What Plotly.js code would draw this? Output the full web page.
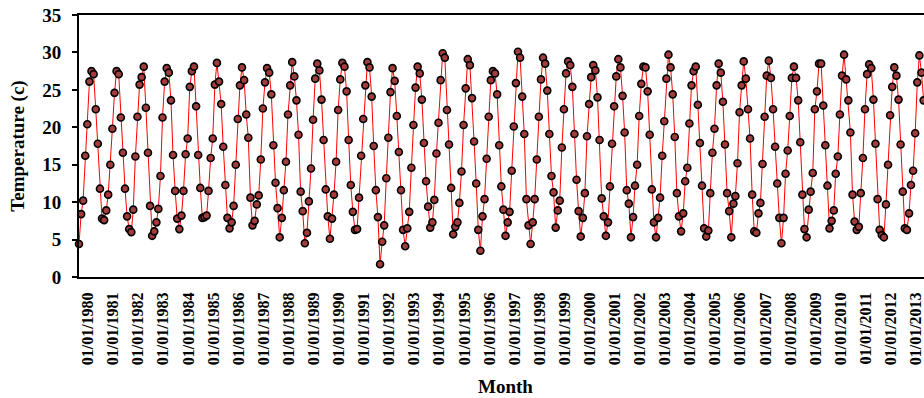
<!DOCTYPE html>
<html>
<head>
<meta charset="utf-8">
<script src="https://cdn.plot.ly/plotly-3.0.1.min.js"></script>
<style>
  html, body { margin: 0; padding: 0; overflow: hidden; background: #ffffff; }
  #chart { width: 937px; height: 398px; }
</style>
</head>
<body>
<div id="chart"></div>
<script>
// Monthly mean temperature (°C), January 1980 onwards, one row per year
const startYear = 1980;
const temperature = [
  4.4, 8.4, 10.2, 16.2, 20.4, 26.1, 27.5, 27.1, 22.4, 17.8, 11.8, 7.8,   // 1980
  7.6, 8.9, 11.0, 15.0, 19.8, 24.6, 27.5, 27.1, 21.3, 16.6, 11.8, 8.1,   // 1981
  6.4, 6.0, 9.0, 16.1, 21.4, 25.7, 26.7, 28.1, 22.6, 16.6, 9.5, 5.5,     // 1982
  6.1, 7.3, 9.1, 13.5, 21.3, 26.1, 27.9, 27.3, 23.6, 16.3, 11.5, 7.8,    // 1983
  6.4, 8.2, 11.5, 16.4, 18.5, 25.4, 27.5, 28.1, 22.8, 16.3, 11.9, 7.9,   // 1984
  8.0, 8.2, 11.5, 15.9, 18.5, 25.7, 28.6, 26.1, 23.1, 17.4, 12.3, 7.9,   // 1985
  6.5, 7.3, 9.5, 15.0, 21.1, 25.6, 28.0, 26.3, 21.7, 18.6, 10.6, 6.9,    // 1986
  7.5, 9.7, 10.9, 15.7, 22.5, 26.0, 27.9, 27.3, 24.4, 17.6, 12.6, 9.2,   // 1987
  5.3, 7.9, 11.6, 15.4, 21.7, 25.6, 28.7, 26.8, 23.6, 19.0, 11.4, 8.8,   // 1988
  4.5, 5.9, 10.1, 14.5, 21.0, 26.5, 28.5, 27.6, 23.7, 18.3, 11.7, 8.1,   // 1989
  5.1, 7.8, 11.0, 15.4, 22.3, 26.4, 28.6, 28.1, 24.8, 18.3, 12.3, 8.7,   // 1990
  6.3, 6.4, 10.6, 16.2, 21.1, 25.6, 28.7, 28.0, 24.1, 17.5, 11.6, 8.0,   // 1991
  1.7, 4.7, 6.9, 13.2, 18.6, 24.7, 27.9, 26.2, 21.5, 16.7, 11.6, 6.3,    // 1992
  4.1, 6.5, 8.7, 14.6, 20.3, 25.3, 28.1, 27.2, 23.7, 17.9, 12.8, 9.4,    // 1993
  6.6, 7.3, 10.3, 16.5, 20.6, 26.3, 29.9, 29.3, 22.3, 17.7, 11.9, 5.7,   // 1994
  6.7, 7.3, 9.9, 14.1, 20.3, 25.2, 29.1, 28.3, 23.9, 18.1, 12.5, 6.3,    // 1995
  3.5, 8.1, 10.4, 15.8, 21.4, 26.3, 27.5, 27.2, 24.4, 17.6, 12.1, 9.0,   // 1996
  5.5, 7.3, 8.7, 14.2, 20.1, 25.9, 30.1, 29.3, 24.1, 19.1, 10.4, 6.9,    // 1997
  4.4, 7.3, 10.4, 15.7, 21.4, 26.4, 29.3, 28.5, 24.9, 19.1, 13.5, 11.3,  // 1998
  6.6, 8.9, 10.2, 17.3, 22.4, 27.2, 28.8, 28.3, 25.4, 19.1, 13.0, 8.8,   // 1999
  5.4, 7.9, 11.2, 18.8, 23.1, 26.7, 28.3, 27.6, 24.0, 18.3, 10.5, 8.1,   // 2000
  5.5, 7.3, 12.1, 17.8, 22.8, 26.8, 29.1, 28.0, 24.2, 19.3, 11.6, 9.8,   // 2001
  5.3, 8.0, 12.2, 15.0, 21.5, 25.8, 28.1, 28.0, 24.8, 19.0, 11.7, 7.3,   // 2002
  5.3, 7.9, 10.6, 16.2, 20.8, 26.5, 29.7, 28.0, 24.4, 18.7, 11.2, 8.1,   // 2003
  6.1, 8.5, 12.8, 14.6, 20.5, 25.6, 27.5, 28.1, 23.0, 17.9, 12.2, 6.5,   // 2004
  5.4, 6.2, 11.2, 16.6, 19.8, 25.6, 28.5, 27.3, 23.4, 17.7, 11.2, 8.8,   // 2005
  5.3, 9.8, 10.8, 15.2, 22.0, 25.6, 28.8, 26.5, 22.4, 18.5, 11.0, 6.1,   // 2006
  5.9, 8.5, 9.9, 15.1, 21.4, 26.9, 28.9, 26.6, 22.4, 17.4, 12.5, 7.9,    // 2007
  4.5, 7.9, 13.8, 16.9, 21.5, 26.6, 28.1, 26.6, 23.6, 18.0, 11.0, 6.4,   // 2008
  5.3, 9.0, 11.4, 13.9, 22.4, 24.8, 28.5, 28.5, 22.9, 17.6, 12.2, 6.5,   // 2009
  7.5, 8.9, 13.8, 16.1, 21.7, 26.9, 29.7, 26.4, 23.6, 19.3, 11.0, 7.4,   // 2010
  6.3, 6.7, 11.2, 15.9, 22.4, 27.1, 28.4, 27.9, 23.7, 17.8, 10.4, 6.3,   // 2011
  5.6, 5.3, 9.7, 15.0, 21.6, 25.4, 28.0, 26.9, 23.7, 17.7, 11.4, 6.5,    // 2012
  6.3, 8.5, 12.3, 14.2, 19.2, 26.0, 29.6, 27.3, 23.6                     // 2013
];

// Axis labels: first day of each year
const tickYears = [1980, 1981, 1982, 1983, 1984, 1985, 1986, 1987, 1988, 1989,
                   1990, 1991, 1992, 1993, 1994, 1995, 1996, 1997, 1998, 1999,
                   2000, 2001, 2002, 2003, 2004, 2005, 2006, 2007, 2008, 2009,
                   2010, 2011, 2012, 2013];
const tickLabels = ['01/01/1980', '01/01/1981', '01/01/1982', '01/01/1983', '01/01/1984',
                    '01/01/1985', '01/01/1986', '01/01/1987', '01/01/1988', '01/01/1989',
                    '01/01/1990', '01/01/1991', '01/01/1992', '01/01/1993', '01/01/1994',
                    '01/01/1995', '01/01/1996', '01/01/1997', '01/01/1998', '01/01/1999',
                    '01/01/2000', '01/01/2001', '01/01/2002', '01/01/2003', '01/01/2004',
                    '01/01/2005', '01/01/2006', '01/01/2007', '01/01/2008', '01/01/2009',
                    '01/01/2010', '01/01/2011', '01/01/2012', '01/01/2013'];

const pad = n => (n < 10 ? '0' : '') + n;
const months = temperature.map((_, i) =>
  (startYear + Math.floor(i / 12)) + '-' + pad(i % 12 + 1) + '-01');

const font = { family: 'Liberation Serif, Times New Roman, serif', color: '#000000', weight: 'bold' };

const trace = {
  x: months,
  y: temperature,
  type: 'scatter',
  mode: 'lines+markers',
  line: { color: '#ff0000', width: 1 },
  marker: { size: 7, color: '#a33c3c', line: { color: '#000000', width: 1.6 } },
  cliponaxis: false,
  hoverinfo: 'skip'
};

const layout = {
  width: 937,
  height: 398,
  margin: { l: 79, r: 5, t: 15, b: 121, autoexpand: false },
  paper_bgcolor: '#ffffff',
  plot_bgcolor: '#ffffff',
  showlegend: false,
  xaxis: {
    type: 'date',
    range: ['1980-01-01', '2014-01-01'],
    tickmode: 'array',
    tickvals: tickYears.map(y => y + '-01-01'),
    ticktext: tickLabels,
    tickangle: -90,
    ticklabelshift: 9,
    ticklabelstandoff: 7,
    ticks: '',
    showgrid: false,
    zeroline: false,
    showline: true,
    mirror: true,
    linecolor: '#000000',
    linewidth: 2,
    automargin: false,
    tickfont: Object.assign({ size: 16 }, font),
    title: { text: 'Month', font: Object.assign({ size: 19 }, font), standoff: 15 }
  },
  yaxis: {
    range: [0, 35],
    tick0: 0,
    dtick: 5,
    ticks: 'outside',
    ticklen: 5,
    tickwidth: 2,
    tickcolor: '#000000',
    ticklabelstandoff: 7,
    showgrid: false,
    zeroline: false,
    showline: true,
    mirror: true,
    linecolor: '#000000',
    linewidth: 2,
    automargin: false,
    tickfont: Object.assign({ size: 19 }, font),
    title: { text: 'Temperature (c)', font: Object.assign({ size: 19 }, font), standoff: 13 }
  }
};

Plotly.newPlot('chart', [trace], layout, { displayModeBar: false, staticPlot: true });
</script>
</body>
</html>
